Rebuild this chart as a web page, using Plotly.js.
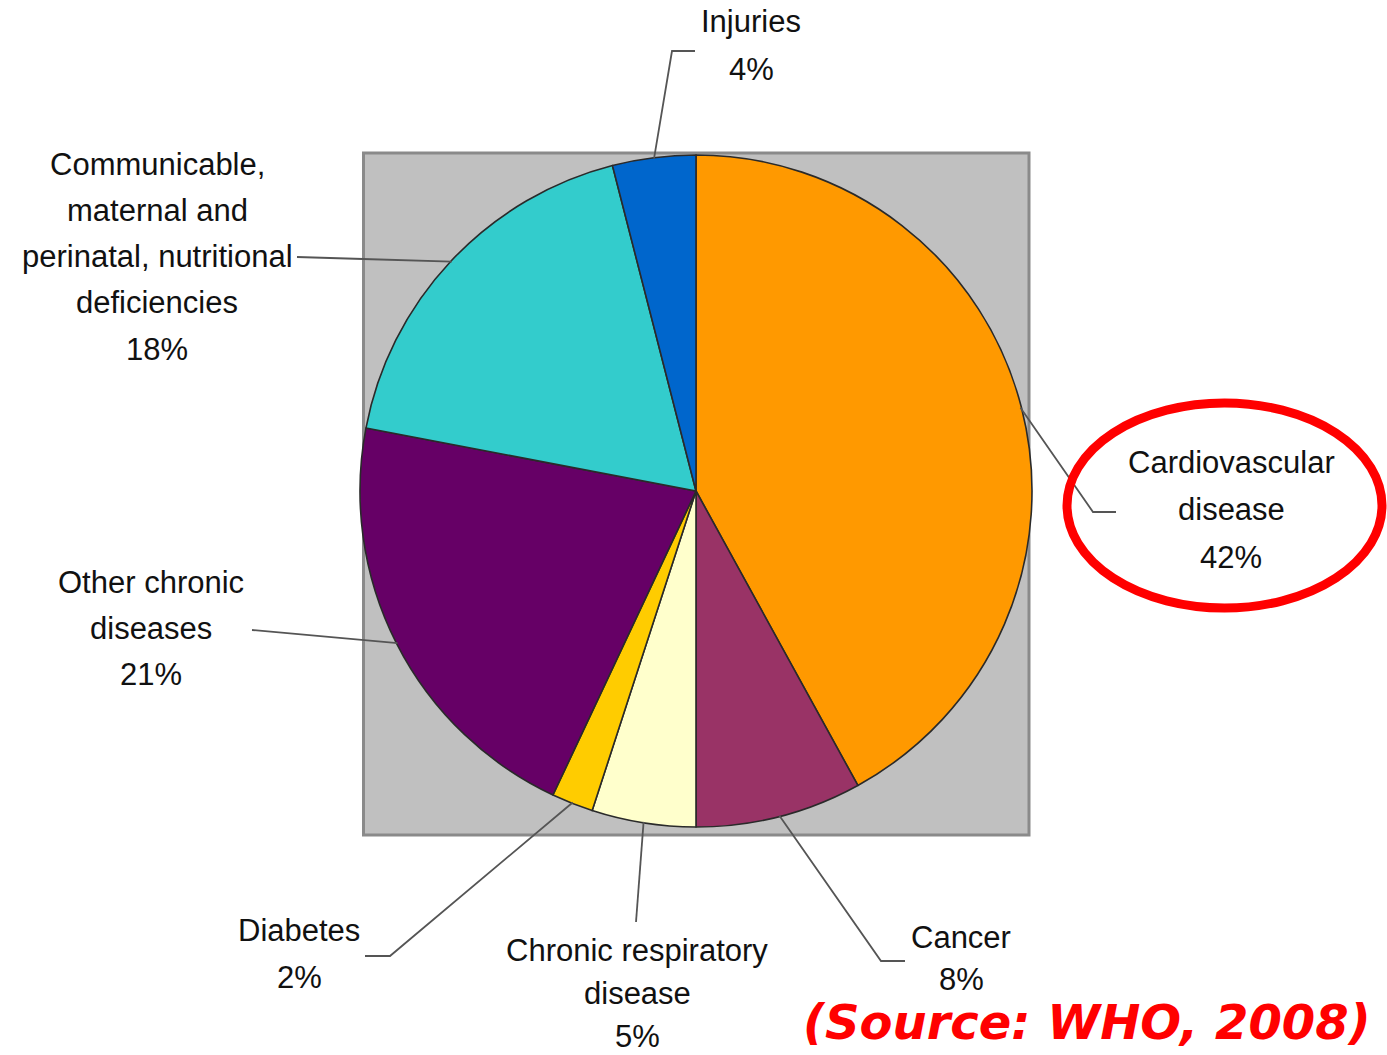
<!DOCTYPE html>
<html>
<head>
<meta charset="utf-8">
<script src="https://cdn.plot.ly/plotly-3.0.1.min.js"></script>
<style>html,body{margin:0;padding:0;background:#fff;}#chart{width:1387px;height:1055px;}</style>
</head>
<body>
<div id="chart"></div>
<script>
// ---- data ----
const categories = ['Cardiovascular disease', 'Cancer', 'Chronic respiratory disease', 'Diabetes',
  'Other chronic diseases', 'Communicable, maternal and perinatal, nutritional deficiencies', 'Injuries'];
const shares = [42, 8, 5, 2, 21, 18, 4];
const labelLines = [
  ['Cardiovascular', 'disease'],
  ['Cancer'],
  ['Chronic respiratory', 'disease'],
  ['Diabetes'],
  ['Other chronic', 'diseases'],
  ['Communicable,', 'maternal and', 'perinatal, nutritional', 'deficiencies'],
  ['Injuries']
];
const sourceNote = '(Source: WHO, 2008)';

// ---- styles / layout ----
const W = 1387, H = 1055;
const sliceColors = ['#FF9900', '#993366', '#FFFFCC', '#FFCC00', '#660066', '#33CCCC', '#0066CC'];
const pieCx = 696, pieCy = 491, pieR = 336;
// label placement: centre x, first line centre y, line spacing, leader elbow/end (pixels)
const labelPlace = [
  {cx: 1231, y0: 462, dy: 47.5, pts: [[1093, 512], [1116, 512]]},
  {cx: 961, y0: 937, dy: 42, pts: [[881, 961], [905, 961]]},
  {cx: 637, y0: 950, dy: 43, pts: [[636, 922]]},
  {cx: 299, y0: 930, dy: 47, pts: [[390, 956], [365, 956]]},
  {cx: 151, y0: 582, dy: 46.5, pts: [[252, 630]]},
  {cx: 157, y0: 165, dy: 46, pts: [[363, 259], [297, 257]]},
  {cx: 751, y0: 22, dy: 47, pts: [[672, 51], [695, 51]]}
];

const px = x => x / W;
const py = y => 1 - y / H;

const annotations = [];
const shapes = [];

shapes.push({type: 'rect', layer: 'below', xref: 'paper', yref: 'paper',
  x0: px(363.5), x1: px(1029), y0: py(153), y1: py(835),
  fillcolor: '#C0C0C0', line: {color: '#8A8A8A', width: 3}});

const total = shares.reduce((a, b) => a + b, 0);
let cum = 0;
shares.forEach((v, i) => {
  const mid = (cum + v / 2) / total * 2 * Math.PI;
  cum += v;
  const sx = pieCx + (pieR - 1) * Math.sin(mid);
  const sy = pieCy - (pieR - 1) * Math.cos(mid);
  const p = labelPlace[i];
  let path = 'M ' + px(sx) + ' ' + py(sy);
  p.pts.forEach(pt => { path += ' L ' + px(pt[0]) + ' ' + py(pt[1]); });
  shapes.push({type: 'path', xref: 'paper', yref: 'paper', path: path,
    line: {color: '#555555', width: 1.8}});
  const lines = labelLines[i].concat([v + '%']);
  lines.forEach((t, k) => {
    annotations.push({xref: 'paper', yref: 'paper', x: px(p.cx), y: py(p.y0 + k * p.dy),
      xanchor: 'center', yanchor: 'middle', showarrow: false, text: t,
      font: {family: 'Liberation Sans, Arial, sans-serif', size: 31, color: '#111111'}});
  });
});

shapes.push({type: 'circle', xref: 'paper', yref: 'paper',
  x0: px(1067), x1: px(1382), y0: py(403), y1: py(608),
  line: {color: '#FF0000', width: 9}});

annotations.push({xref: 'paper', yref: 'paper', x: px(1087), y: py(1022),
  xanchor: 'center', yanchor: 'middle', showarrow: false, text: sourceNote,
  font: {family: 'DejaVu Sans, Verdana, sans-serif', size: 48, color: '#FF0000', weight: 'bold', style: 'italic'}});

const trace = {
  type: 'pie',
  labels: categories,
  values: shares,
  sort: false,
  direction: 'clockwise',
  rotation: 0,
  textinfo: 'none',
  hoverinfo: 'none',
  marker: {colors: sliceColors, line: {color: '#2a2a2a', width: 1.6}},
  domain: {x: [px(pieCx - pieR), px(pieCx + pieR)], y: [py(pieCy + pieR), py(pieCy - pieR)]}
};

Plotly.newPlot('chart', [trace], {
  width: W, height: H,
  margin: {l: 0, r: 0, t: 0, b: 0},
  paper_bgcolor: '#FFFFFF',
  showlegend: false,
  shapes: shapes,
  annotations: annotations
}, {displayModeBar: false, staticPlot: true});
</script>
</body>
</html>
